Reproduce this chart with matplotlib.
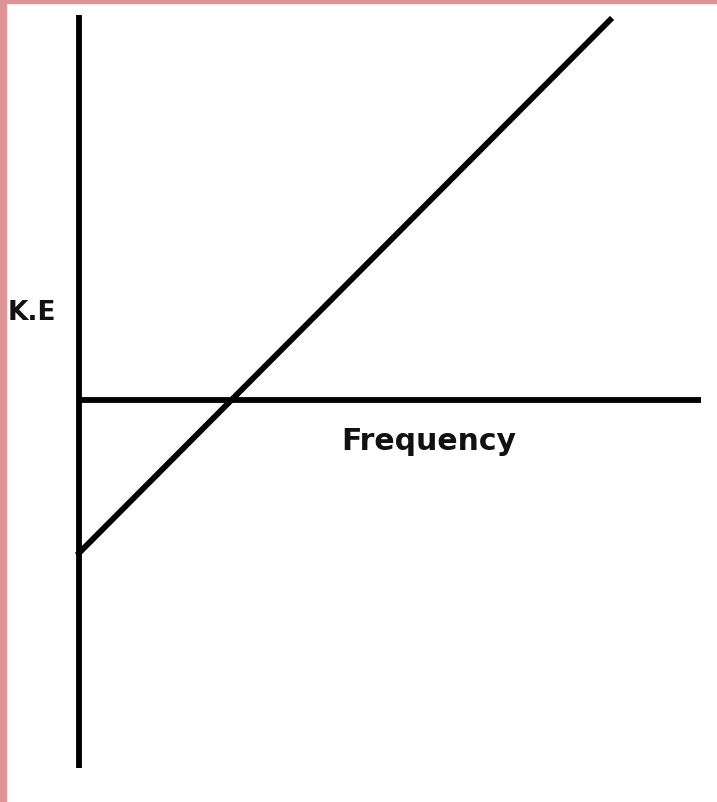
import matplotlib
matplotlib.use("Agg")
import matplotlib.pyplot as plt
from matplotlib.patches import Rectangle

# Data (arbitrary units: 1 unit ~ 1 px)
freq = [0, 531]          # frequency values along the line
ke = [-153, 380]         # kinetic energy values (negative intercept = -work function)
x_axis_freq = [0, 622]   # extent of the frequency axis
y_axis_ke = [-368, 385]  # extent of the K.E axis
x_label = "Frequency"
y_label = "K.E"

W, H = 717, 802
fig = plt.figure(figsize=(W / 100, H / 100), dpi=100)
fig.patch.set_facecolor("white")
ax = fig.add_axes([0, 0, 1, 1])
ax.set_xlim(-79, W - 79)
ax.set_ylim(-(H - 400), 400)
ax.axis("off")

pink = "#dc9496"
# border
fig.patches.append(Rectangle((0, 0), 6 / W, 1, transform=fig.transFigure, color=pink, zorder=0))
fig.patches.append(Rectangle((0, 1 - 3 / H), 1, 3 / H, transform=fig.transFigure, color=pink, zorder=0))

lw = 4.2
ax.plot([0, 0], y_axis_ke, color="black", lw=lw, solid_capstyle="butt")
ax.plot(x_axis_freq, [0, 0], color="black", lw=lw, solid_capstyle="butt")
ax.plot(freq, ke, color="black", lw=lw, solid_capstyle="projecting")

ax.text(428.5 - 79, -42, x_label, fontsize=21.5, fontweight="bold",
        family="DejaVu Sans", ha="center", va="center", color="#111111")
ax.text(31.5 - 79, 87.5, y_label, fontsize=19, fontweight="bold",
        family="DejaVu Sans", ha="center", va="center", color="#111111")

fig.savefig("out.png", dpi=100, facecolor="white")
